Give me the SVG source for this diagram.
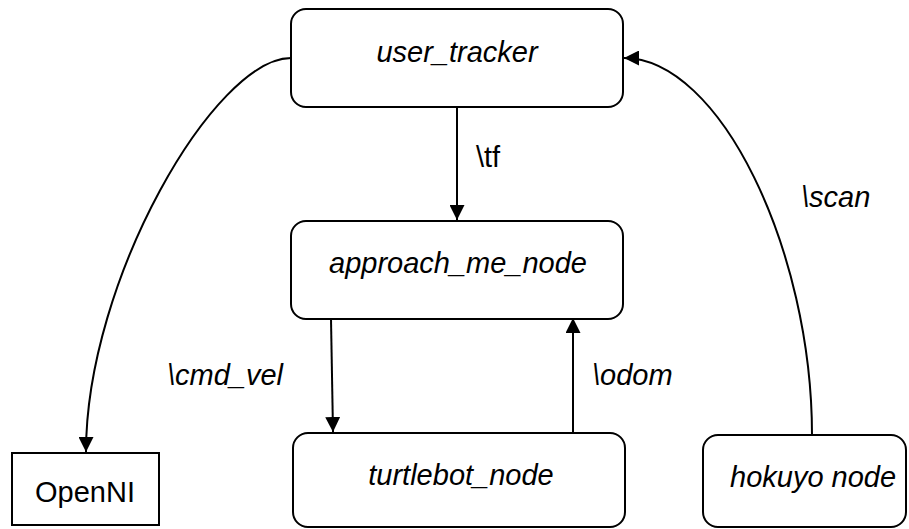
<svg xmlns="http://www.w3.org/2000/svg" width="909" height="529" viewBox="0 0 909 529">
<defs>
<style>
.box{fill:#fff;stroke:#000;stroke-width:2}
.lbl{font-family:"Liberation Sans",Arial,sans-serif;font-size:29px;fill:#000}
.it{font-style:italic}
.edge{fill:none;stroke:#000;stroke-width:2}
</style>
<marker id="arr" viewBox="0 0 10 10" refX="10" refY="5" markerWidth="15" markerHeight="15" markerUnits="userSpaceOnUse" orient="auto">
<path d="M0,0 L10,5 L0,10 Z" fill="#000"/>
</marker>
</defs>
<rect width="909" height="529" fill="#fff"/>
<g id="connectors">
<path class="edge" d="M457,107 L457,220" marker-end="url(#arr)"/>
<path class="edge" d="M331,319 L333,432" marker-end="url(#arr)"/>
<path class="edge" d="M573,432 L573,318" marker-end="url(#arr)"/>
<path class="edge" d="M291,58 C215,58 86,280 86,452" marker-end="url(#arr)"/>
<path class="edge" d="M812,435 C812,250 720,58 624,58" marker-end="url(#arr)"/>
<text class="lbl" x="476" y="167">\tf</text>
<text class="lbl it" x="167" y="385">\cmd_vel</text>
<text class="lbl it" x="592" y="385">\odom</text>
<text class="lbl it" x="801" y="207">\scan</text>
</g>
<g id="user_tracker">
<rect class="box" x="291" y="9" width="332" height="98" rx="15"/>
<text class="lbl it" x="457" y="62" text-anchor="middle">user_tracker</text>
</g>
<g id="approach_me_node">
<rect class="box" x="291" y="221" width="332" height="98" rx="15"/>
<text class="lbl it" x="458" y="273" text-anchor="middle">approach_me_node</text>
</g>
<g id="turtlebot_node">
<rect class="box" x="293" y="433" width="332" height="94" rx="15"/>
<text class="lbl it" x="461" y="485" text-anchor="middle">turtlebot_node</text>
</g>
<g id="hokuyo_node">
<rect class="box" x="703" y="435" width="203" height="92" rx="15"/>
<text class="lbl it" x="730" y="487">hokuyo node</text>
</g>
<g id="OpenNI">
<rect class="box" x="12" y="453" width="147" height="72"/>
<text class="lbl" x="85" y="502" text-anchor="middle">OpenNI</text>
</g>
</svg>
